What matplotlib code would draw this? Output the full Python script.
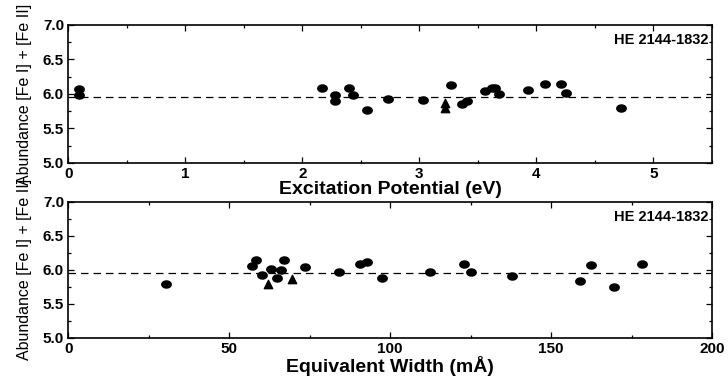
import numpy as np
import matplotlib
matplotlib.use("Agg")
import matplotlib.pyplot as plt
from matplotlib.path import Path
from matplotlib.ticker import MultipleLocator, FormatStrFormatter

plt.rcParams['font.family'] = ['Liberation Sans', 'DejaVu Sans']

# Top panel: abundance vs excitation potential
ep_fe1 = [0.09, 0.09, 2.17, 2.28, 2.28, 2.40, 2.43, 2.55, 2.73, 3.03, 3.27, 3.36,
          3.41, 3.56, 3.62, 3.65, 3.68, 3.93, 4.07, 4.21, 4.25, 4.72]
ab_ep_fe1 = [6.07, 5.99, 6.09, 5.98, 5.90, 6.09, 5.98, 5.77, 5.92, 5.91, 6.13, 5.85,
             5.90, 6.04, 6.09, 6.09, 6.00, 6.05, 6.14, 6.14, 6.01, 5.80]
ep_fe2 = [3.22, 3.22]
ab_ep_fe2 = [5.87, 5.80]

# Bottom panel: abundance vs equivalent width
ew_fe1 = [30.3, 57.1, 58.4, 60.1, 62.9, 64.7, 66.1, 67.0, 73.6, 84.1, 90.6, 92.9,
          97.4, 112.4, 123.0, 125.1, 138.0, 158.9, 162.5, 169.5, 178.2]
ab_ew_fe1 = [5.79, 6.05, 6.14, 5.92, 6.01, 5.88, 6.00, 6.14, 6.04, 5.97, 6.09, 6.12,
             5.88, 5.97, 6.08, 5.97, 5.91, 5.84, 6.07, 5.75, 6.08]
ew_fe2 = [62.2, 69.4]
ab_ew_fe2 = [5.79, 5.86]

mean_ab = 5.95
star = "HE 2144-1832"
ylab = "Abundance [Fe I] + [Fe II]"

t = np.linspace(0, 2 * np.pi, 60)
ellipse = Path(np.column_stack([np.cos(t), 0.75 * np.sin(t)]), closed=True)

fig = plt.figure(figsize=(7.28, 3.78), dpi=100)
ax1 = fig.add_axes([0.0938, 0.569, 0.8842, 0.365])
ax2 = fig.add_axes([0.0938, 0.1066, 0.8842, 0.3598])

panels = [
    (ax1, ep_fe1, ab_ep_fe1, ep_fe2, ab_ep_fe2, (0, 5.5), 1, 0.5, "Excitation Potential (eV)"),
    (ax2, ew_fe1, ab_ew_fe1, ew_fe2, ab_ew_fe2, (0, 200), 50, 25, "Equivalent Width (mÅ)"),
]
for ax, x1, y1, x2, y2, xl, maj, mnr, xlabel in panels:
    ax.axhline(mean_ab, color='black', lw=0.9, ls=(0, (6, 4)), zorder=1)
    ax.scatter(x1, y1, marker=ellipse, s=46, color='black', zorder=3)
    ax.scatter(x2, y2, marker='^', s=36, color='black', zorder=3)
    ax.set_xlim(*xl)
    ax.set_ylim(5.0, 7.0)
    ax.xaxis.set_major_locator(MultipleLocator(maj))
    ax.xaxis.set_minor_locator(MultipleLocator(mnr))
    ax.yaxis.set_major_locator(MultipleLocator(0.5))
    ax.yaxis.set_minor_locator(MultipleLocator(0.25))
    ax.yaxis.set_major_formatter(FormatStrFormatter('%.1f'))
    ax.tick_params(which='both', direction='in', top=True, right=True,
                   labelsize=11, width=0.9)
    ax.tick_params(axis='x', pad=3)
    ax.tick_params(axis='y', pad=3)
    ax.tick_params(which='major', length=4)
    ax.tick_params(which='minor', length=2.5)
    for lab in ax.get_xticklabels() + ax.get_yticklabels():
        lab.set_fontweight('bold')
    for sp in ax.spines.values():
        sp.set_linewidth(1.2)
    ax.set_xlabel(xlabel, fontsize=14, fontweight='bold', labelpad=0)
    ax.set_ylabel(ylab, fontsize=11.5)
    ax.yaxis.set_label_coords(-0.057, 0.5)
    ax.text(0.995, 0.89, star, transform=ax.transAxes, ha='right', va='center',
            fontsize=10.5, fontweight='bold')

fig.savefig("out.png", dpi=100)
